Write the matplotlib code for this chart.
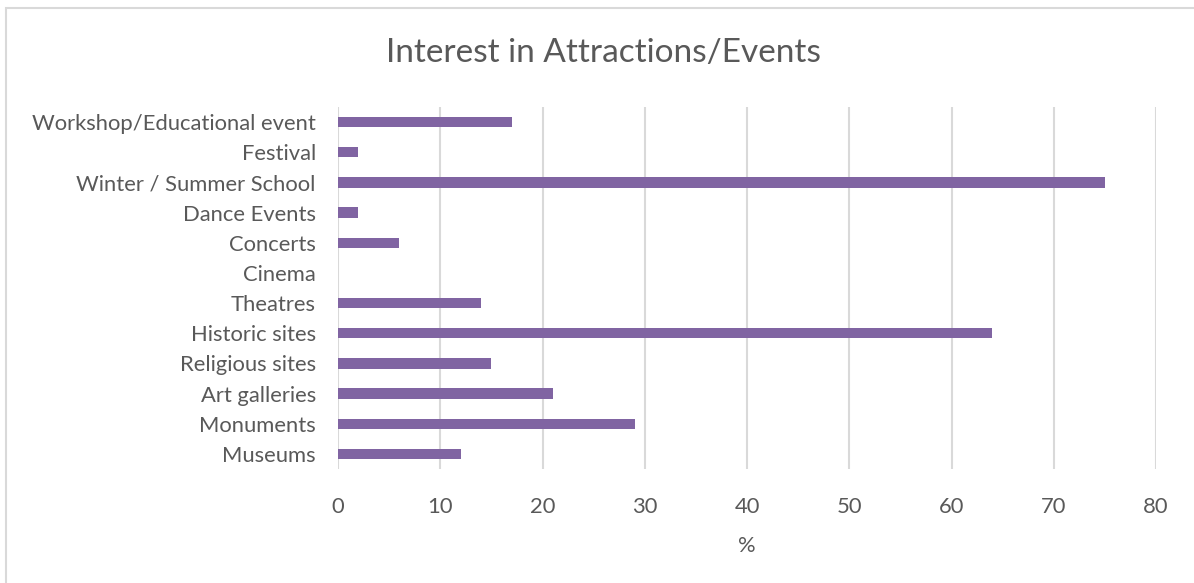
import matplotlib
matplotlib.use('Agg')
import matplotlib.pyplot as plt
from matplotlib.patches import Rectangle

categories = ['Museums', 'Monuments', 'Art galleries', 'Religious sites', 'Historic sites',
              'Theatres', 'Cinema', 'Concerts', 'Dance Events', 'Winter / Summer School',
              'Festival', 'Workshop/Educational event']
values = [12, 29, 21, 15, 64, 14, 0, 6, 2, 75, 2, 17]
x_ticks = [0, 10, 20, 30, 40, 50, 60, 70, 80]

plt.rcParams['font.family'] = ['Lato', 'DejaVu Sans']
text_color = '#595959'

fig = plt.figure(figsize=(11.94, 5.83), dpi=100)
W, H = 1194, 583
ax = fig.add_axes([338 / W, 1 - 469 / H, (1156 - 338) / W, (469 - 107) / H])

ax.barh(range(len(categories)), values, height=0.34, color='#8064A2', zorder=3)
ax.set_ylim(-0.5, len(categories) - 0.5)
ax.set_xlim(0, 80)
ax.set_xticks(x_ticks)
ax.set_yticks(range(len(categories)))
ax.set_yticklabels(categories)
ax.grid(axis='x', color='#D9D9D9', linewidth=1.5, zorder=0)
for s in ax.spines.values():
    s.set_visible(False)
ax.tick_params(length=0, labelsize=15.8, colors=text_color)
ax.tick_params(axis='x', pad=20)
ax.tick_params(axis='y', pad=16)
ax.set_xlabel('%', fontsize=15.8, color=text_color, labelpad=14)

fig.text(603 / W, 1 - 53 / H, 'Interest in Attractions/Events', ha='center', va='center',
         fontsize=24, color=text_color)

fig.patches.append(Rectangle((6 / W, -0.01), 1.1, 1 - 8 / H + 0.01, transform=fig.transFigure,
                             fill=False, edgecolor='#D9D9D9', linewidth=1.5))

plt.savefig('out.png', dpi=100)
